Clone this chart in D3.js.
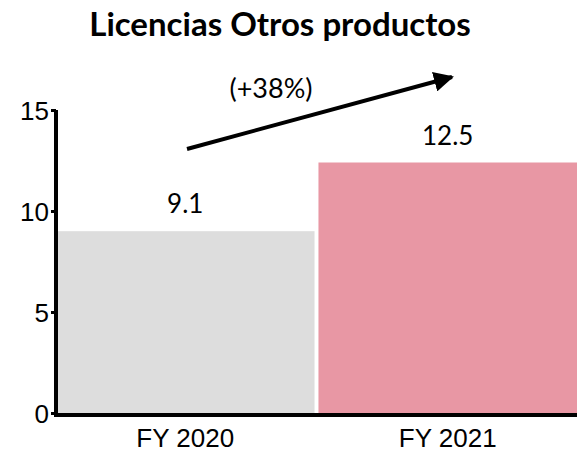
<!DOCTYPE html>
<html>
<head>
<meta charset="utf-8">
<script src="https://cdn.jsdelivr.net/npm/d3@7"></script>
<style>
  body { margin: 0; background: #fff; }
  svg { display: block; font-family: Lato, "Open Sans", sans-serif; }
</style>
</head>
<body>
<script>
const categories = ["FY 2020", "FY 2021"];
const values = [9.1, 12.5];
const valueLabels = ["9.1", "12.5"];
const colors = ["#dddddd", "#e897a4"];
const yTicks = [0, 5, 10, 15];
const title = "Licencias Otros productos";
const growthLabel = "(+38%)";

const width = 577, height = 452;
const margin = {top: 110, right: 0, bottom: 38, left: 56};

const svg = d3.select("body").append("svg")
  .attr("width", width)
  .attr("height", height);

const x = d3.scaleBand()
  .domain(categories)
  .range([margin.left, width - margin.right])
  .paddingInner(0.015);

const y = d3.scaleLinear()
  .domain([0, 15])
  .range([height - margin.bottom - 1, margin.top]);

// bars
svg.selectAll("rect.bar")
  .data(values)
  .join("rect")
  .attr("class", "bar")
  .attr("x", (d, i) => x(categories[i]) + (i === 0 ? 2 : 0))
  .attr("width", (d, i) => x.bandwidth() - (i === 0 ? 2 : 0))
  .attr("y", d => y(d) + 2)
  .attr("height", d => y(0) - y(d) - 2)
  .attr("fill", (d, i) => colors[i]);

// value labels
svg.selectAll("text.val")
  .data(values)
  .join("text")
  .attr("class", "val")
  .attr("x", (d, i) => x(categories[i]) + x.bandwidth() / 2)
  .attr("y", d => y(d) - 16)
  .attr("text-anchor", "middle")
  .attr("font-size", 26)
  .text((d, i) => valueLabels[i]);

// y axis
const yAxis = svg.append("g")
  .attr("transform", `translate(${margin.left},0)`)
  .call(d3.axisLeft(y).tickValues(yTicks).tickSize(5).tickPadding(2));
yAxis.select(".domain").attr("stroke-width", 4).attr("d", `M0,${margin.top}V${y(0) + 2}`);
yAxis.selectAll(".tick line").attr("stroke-width", 3);
yAxis.selectAll(".tick text").attr("font-size", 26).attr("fill", "#000").attr("dy", "0.36em");

// x axis
const xAxis = svg.append("g")
  .attr("transform", `translate(0,${y(0) + 2})`)
  .call(d3.axisBottom(x).tickSize(0).tickPadding(14));
xAxis.select(".domain").attr("stroke-width", 4).attr("d", `M${margin.left - 2},0H${width}`);
xAxis.selectAll(".tick text").attr("font-size", 26).attr("fill", "#000");

// title
svg.append("text")
  .attr("x", 280)
  .attr("y", 36)
  .attr("text-anchor", "middle")
  .attr("font-size", 33)
  .attr("font-weight", "bold")
  .text(title);

// growth arrow
const defs = svg.append("defs");
defs.append("marker")
  .attr("id", "arrow")
  .attr("viewBox", "0 0 10 10")
  .attr("refX", 9)
  .attr("refY", 5)
  .attr("markerWidth", 5)
  .attr("markerHeight", 5)
  .attr("markerUnits", "strokeWidth")
  .attr("orient", "auto")
  .append("path")
  .attr("d", "M0,0L10,5L0,10Z")
  .attr("fill", "#000");

svg.append("line")
  .attr("x1", 187).attr("y1", 149)
  .attr("x2", 452).attr("y2", 77)
  .attr("stroke", "#000")
  .attr("stroke-width", 4)
  .attr("marker-end", "url(#arrow)");

svg.append("text")
  .attr("x", 271)
  .attr("y", 98)
  .attr("text-anchor", "middle")
  .attr("font-size", 27)
  .text(growthLabel);
</script>
</body>
</html>
